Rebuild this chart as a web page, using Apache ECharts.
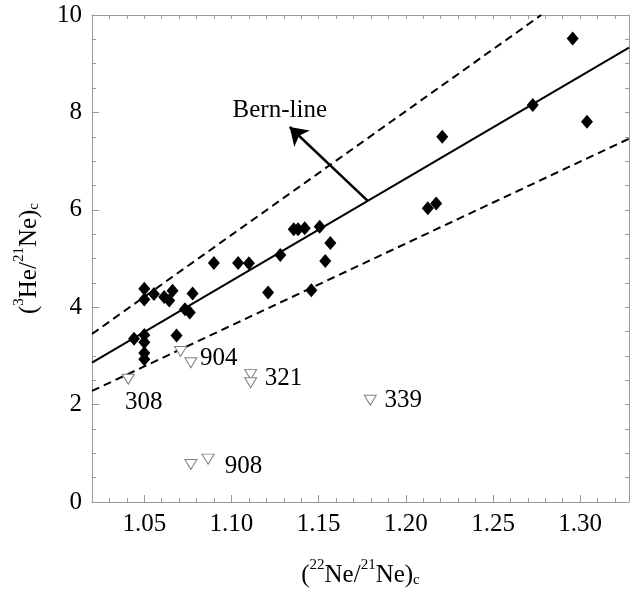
<!DOCTYPE html>
<html>
<head>
<meta charset="utf-8">
<script src="https://cdn.jsdelivr.net/npm/echarts@6/dist/echarts.min.js"></script>
<style>html,body{margin:0;padding:0;background:#fff}#c{width:638px;height:593px}</style>
</head>
<body>
<div id="c"></div>
<script>
// ---- data ----
const xTicks = [1.05, 1.10, 1.15, 1.20, 1.25, 1.30];
const yTicks = [0, 2, 4, 6, 8, 10];
const diamondX = [1.050, 1.050, 1.0555, 1.0614, 1.0643, 1.0662, 1.0777, 1.0733, 1.0761, 1.0685, 1.0441, 1.050, 1.050, 1.050, 1.050, 1.0899, 1.1038, 1.110, 1.128, 1.121, 1.1357, 1.1382, 1.142, 1.1506, 1.1567, 1.1538, 1.1458, 1.2126, 1.2174, 1.2209, 1.2728, 1.2957, 1.3039];
const diamondY = [4.38, 4.16, 4.27, 4.21, 4.14, 4.34, 4.28, 3.96, 3.89, 3.42, 3.35, 3.43, 3.28, 3.06, 2.93, 4.91, 4.91, 4.90, 5.07, 4.30, 5.60, 5.60, 5.62, 5.65, 5.32, 4.95, 4.35, 6.03, 6.13, 7.50, 8.15, 9.52, 7.81];
const triX = [1.0408, 1.0708, 1.0767, 1.111, 1.111, 1.0767, 1.0866, 1.1796];
const triY = [2.52, 3.09, 2.86, 2.62, 2.45, 0.77, 0.88, 2.09];
const sampleLabels = ['308', '904', '321', '908', '339'];
const sampleLabelX = [1.0389, 1.0819, 1.1191, 1.0962, 1.1878];
const sampleLabelY = [2.05, 2.94, 2.53, 0.74, 2.09];
const bernX = [1.02, 1.328];
const bernY = [2.86, 9.33];
const upperX = [1.02, 1.2777];
const upperY = [3.45, 10];
const lowerX = [1.02, 1.328];
const lowerY = [2.28, 7.46];
const arrowFrom = [1.178, 6.19];
const arrowTo = [1.1334, 7.70];
const bernLabelPos = [1.1277, 8.05];
const bernLabel = 'Bern-line';

// ---- chart ----
const FONT = '"Liberation Serif", "Times New Roman", serif';
const AX = '#9a9a9a';
const TXT = '#000';
const XMIN = 1.02, XMAX = 1.328;
const pairs = (xs, ys) => xs.map((x, i) => [x, ys[i]]);

const chart = echarts.init(document.getElementById('c'), null, {renderer: 'canvas'});
const rich = {
  a: {fontFamily: FONT, fontSize: 25, color: TXT, lineHeight: 30, verticalAlign: 'bottom'},
  sup: {fontFamily: FONT, fontSize: 15, color: TXT, lineHeight: 15, verticalAlign: 'top'},
  sub: {fontFamily: FONT, fontSize: 15, color: TXT, lineHeight: 15, verticalAlign: 'bottom'}
};

const option = {
  backgroundColor: '#fff',
  animation: false,
  grid: {left: 92, top: 15, right: 9, bottom: 91, containLabel: false},
  xAxis: [
    {
      type: 'value', min: XMIN, max: XMAX, position: 'bottom',
      name: '{a|(}{sup|22}{a|Ne/}{sup|21}{a|Ne)}{sub|c}',
      nameLocation: 'middle', nameGap: 56,
      nameTextStyle: {rich: rich},
      axisLine: {show: true, lineStyle: {color: AX, width: 1}},
      axisTick: {show: true, inside: true, length: 7, customValues: xTicks, lineStyle: {color: AX}},
      axisLabel: {show: true, customValues: xTicks, margin: 10, fontFamily: FONT, fontSize: 25, color: TXT,
        formatter: v => v.toFixed(2)},
      splitLine: {show: false}
    },
    {
      type: 'value', min: XMIN, max: XMAX, interval: 0.01, position: 'bottom',
      axisLine: {show: false},
      axisTick: {show: true, inside: true, length: 4, lineStyle: {color: AX}},
      axisLabel: {show: false}, splitLine: {show: false}
    },
    {
      type: 'value', min: XMIN, max: XMAX, interval: 0.01, position: 'top',
      axisLine: {show: true, lineStyle: {color: AX, width: 1}},
      axisTick: {show: true, inside: true, length: 4, lineStyle: {color: AX}},
      axisLabel: {show: false}, splitLine: {show: false}
    }
  ],
  yAxis: [
    {
      type: 'value', min: 0, max: 10, interval: 2, position: 'left',
      name: '{a|(}{sup|3}{a|He/}{sup|21}{a|Ne)}{sub|c}',
      nameLocation: 'middle', nameGap: 50, nameRotate: 90,
      nameTextStyle: {rich: rich},
      axisLine: {show: true, lineStyle: {color: AX, width: 1}},
      axisTick: {show: true, inside: true, length: 7, lineStyle: {color: AX}},
      minorTick: {show: true, splitNumber: 4, length: 4, lineStyle: {color: AX}},
      axisLabel: {show: true, margin: 10, fontFamily: FONT, fontSize: 25, color: TXT,
        customValues: yTicks},
      splitLine: {show: false}
    },
    {
      type: 'value', min: 0, max: 10, interval: 0.5, position: 'right',
      axisLine: {show: true, lineStyle: {color: AX, width: 1}},
      axisTick: {show: true, inside: true, length: 4, lineStyle: {color: AX}},
      axisLabel: {show: false}, splitLine: {show: false}
    }
  ],
  series: [
    {
      type: 'line', data: pairs(upperX, upperY), showSymbol: false, symbol: 'none',
      lineStyle: {color: '#000', width: 2, type: [8, 5]}, silent: true, z: 2
    },
    {
      type: 'line', data: pairs(lowerX, lowerY), showSymbol: false, symbol: 'none',
      lineStyle: {color: '#000', width: 2, type: [8, 5]}, silent: true, z: 2
    },
    {
      type: 'line', data: pairs(bernX, bernY), showSymbol: false, symbol: 'none',
      lineStyle: {color: '#000', width: 2}, silent: true, z: 2
    },
    {
      type: 'lines', coordinateSystem: 'cartesian2d',
      data: [{coords: [arrowFrom, arrowTo]}],
      symbol: ['none', 'arrow'], symbolSize: 17,
      lineStyle: {color: '#000', width: 2.5, opacity: 1}, z: 3
    },
    {
      type: 'scatter', data: pairs(diamondX, diamondY), symbol: 'diamond', symbolSize: [12, 14],
      itemStyle: {color: '#000', opacity: 1}, z: 4
    },
    {
      type: 'scatter', data: pairs(triX, triY),
      symbol: 'path://M0,0 L12,0 L6,10 Z', symbolSize: [12, 10],
      itemStyle: {color: '#fff', borderColor: '#808080', borderWidth: 1, opacity: 1}, z: 4
    },
    {
      type: 'scatter', symbolSize: 0, itemStyle: {opacity: 1},
      data: sampleLabels.map((t, i) => ({value: [sampleLabelX[i], sampleLabelY[i]], name: t})),
      label: {show: true, position: 'right', distance: 0, formatter: p => p.name,
        fontFamily: FONT, fontSize: 25, color: TXT, opacity: 1},
      z: 5
    },
    {
      type: 'scatter', symbolSize: 0, itemStyle: {opacity: 1},
      data: [{value: bernLabelPos, name: bernLabel}],
      label: {show: true, position: 'inside', formatter: p => p.name,
        fontFamily: FONT, fontSize: 25, color: TXT, opacity: 1},
      z: 5
    }
  ]
};
chart.setOption(option);
</script>
</body>
</html>
